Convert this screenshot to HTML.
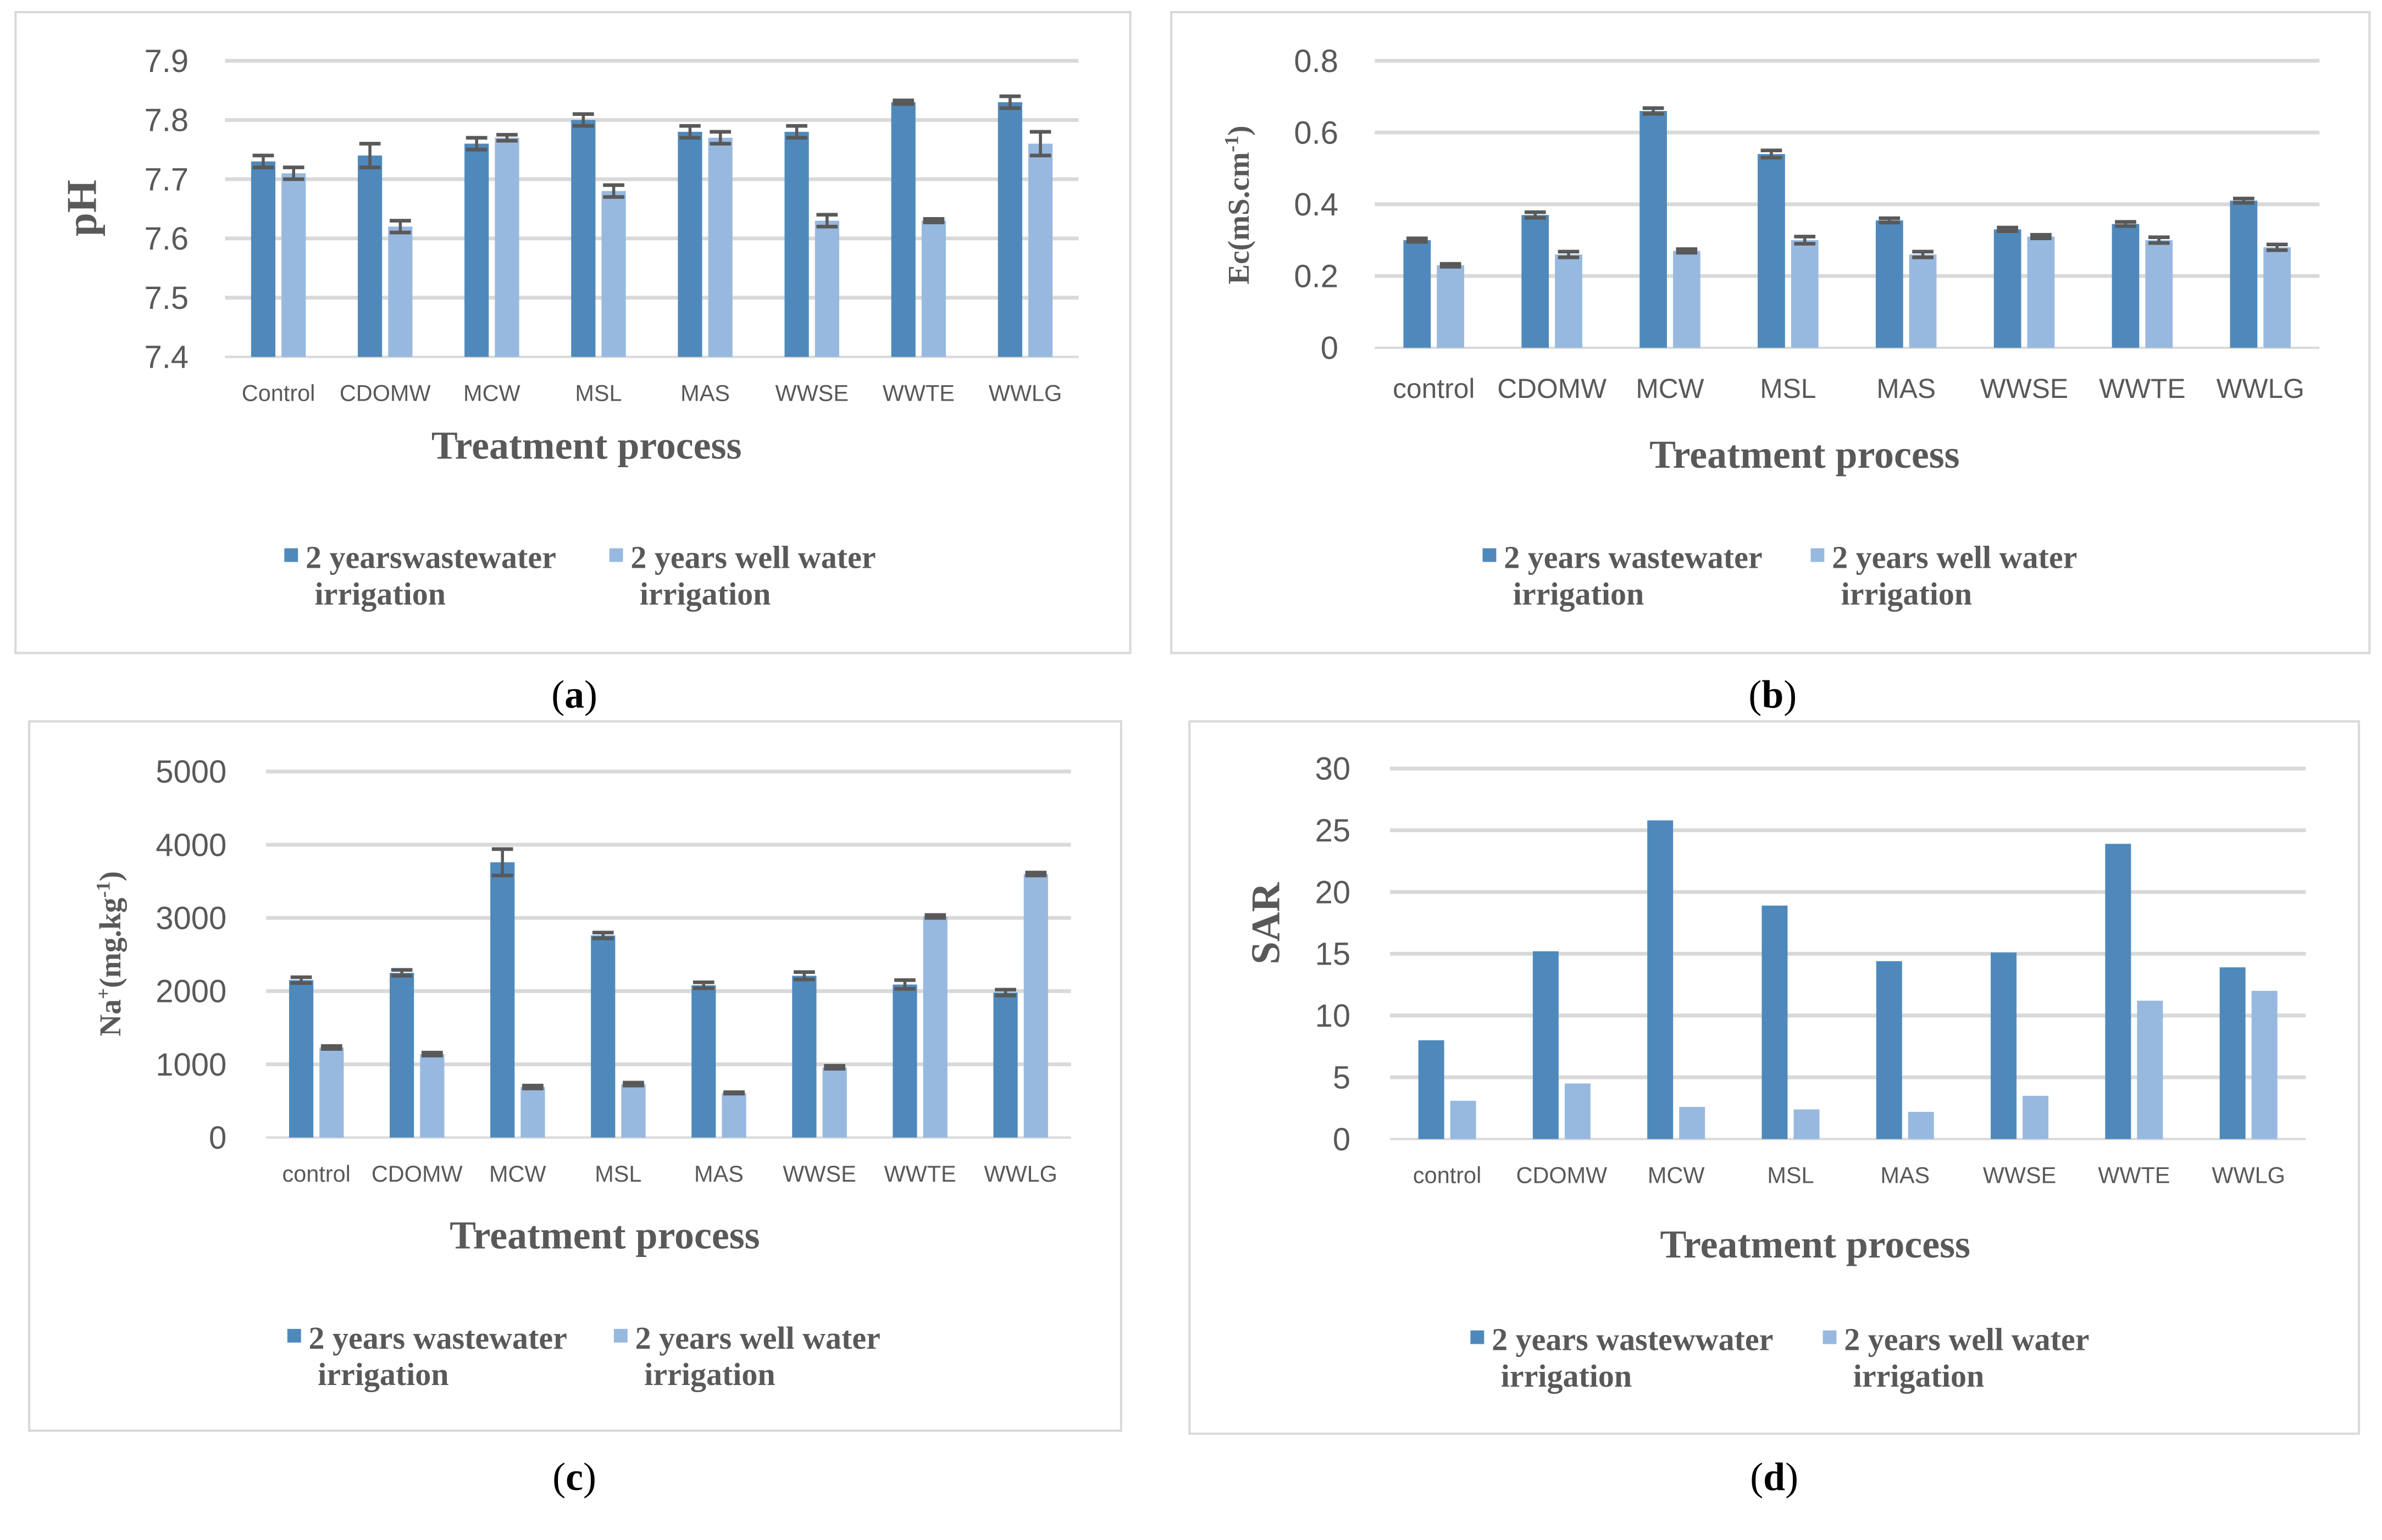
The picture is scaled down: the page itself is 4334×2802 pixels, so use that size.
<!DOCTYPE html>
<html><head><meta charset="utf-8"><style>
html,body{margin:0;padding:0;background:#fff;}
svg{display:block;}
.tk{font-family:"Liberation Sans",sans-serif;fill:#595959;}
.sr{font-family:"Liberation Serif",serif;fill:#595959;font-weight:bold;}
.cap{font-family:"Liberation Serif",serif;fill:#000;}
</style></head><body>
<svg id="chart" width="4334" height="2802" viewBox="0 0 1568 1014" xmlns="http://www.w3.org/2000/svg"></svg>
<script>
const catsA = ["Control","CDOMW","MCW","MSL","MAS","WWSE","WWTE","WWLG"];
const catsB = ["control","CDOMW","MCW","MSL","MAS","WWSE","WWTE","WWLG"];
const ticksA = [7.4,7.5,7.6,7.7,7.8,7.9];
const ticksB = [0,0.2,0.4,0.6,0.8];
const ticksC = [0,1000,2000,3000,4000,5000];
const ticksD = [0,5,10,15,20,25,30];
const wasteA = [7.73,7.74,7.76,7.80,7.78,7.78,7.83,7.83];
const wellA = [7.71,7.62,7.77,7.68,7.77,7.63,7.63,7.76];
const wasteErrA = [0.01,0.02,0.01,0.01,0.01,0.01,0.003,0.01];
const wellErrA = [0.01,0.01,0.005,0.01,0.01,0.01,0.003,0.02];
const wasteB = [0.30,0.37,0.66,0.54,0.355,0.33,0.345,0.41];
const wellB = [0.23,0.26,0.27,0.30,0.26,0.31,0.30,0.28];
const wasteErrB = [0.005,0.008,0.008,0.01,0.006,0.005,0.006,0.006];
const wellErrB = [0.004,0.008,0.005,0.01,0.008,0.005,0.008,0.008];
const wasteC = [2150,2250,3760,2760,2080,2210,2090,1980];
const wellC = [1230,1140,690,730,610,960,3020,3600];
const wasteErrC = [40,40,180,40,40,50,60,40];
const wellErrC = [20,20,20,20,10,20,20,20];
const wasteD = [8,15.2,25.8,18.9,14.4,15.1,23.9,13.9];
const wellD = [3.1,4.5,2.6,2.4,2.2,3.5,11.2,12];

const svg = document.getElementById('chart');
const NS = "http://www.w3.org/2000/svg";
function mk(tag, attrs, parent){const e=document.createElementNS(NS,tag);for(const k in attrs)e.setAttribute(k,attrs[k]);(parent||svg).appendChild(e);return e;}

function panel(p){
  const g = mk('g',{});
  
  
  const box = mk('rect',{x:p.box[0],y:p.box[1],width:p.box[2],height:p.box[3],fill:'#fff',stroke:'#d9d9d9','stroke-width':1.5},g);
  
  
  const lo=p.ticks[0], hi=p.ticks[p.ticks.length-1];
  const y = v => p.y0 - (v-lo)/(hi-lo)*(p.y0-p.y1);
  const bw = (p.x1-p.x0)/p.cats.length;
  const xc = i => p.x0 + bw*(i+0.5);
  p.ticks.forEach((t,i)=>{
    const l = mk('line',{x1:p.x0,x2:p.x1,y1:y(t),y2:y(t),stroke:'#d9d9d9','stroke-width':i==0?1.5:2.5},g);
    
    
    const tx = mk('text',{x:p.x0-p.tickGap,y:y(t)+p.tfs*0.35,'text-anchor':'end','font-size':p.tfs,class:'tk'},g);
    tx.textContent = p.fmt(t);
    
    
  });
  const barW = p.barW;
  p.cats.forEach((c,i)=>{
    const series=[[p.s1,p.e1,'#4f89bc',-1],[p.s2,p.e2,'#98b9df',1]];
    series.forEach(([s,e,col,side])=>{
      const bx = side<0 ? xc(i)-p.gap/2-barW : xc(i)+p.gap/2;
      const r = mk('rect',{x:bx,y:y(s[i]),width:barW,height:p.y0-y(s[i]),fill:col},g);
      
      
      if(e){
        const cx=bx+barW/2, top=y(s[i]+e[i]), bot=y(s[i]-e[i]);
        const eg = mk('g',{stroke:'#595959'},g);
        
        
        mk('line',{x1:cx,x2:cx,y1:top,y2:bot,'stroke-width':2},eg);
        mk('line',{x1:cx-7,x2:cx+7,y1:top,y2:top,'stroke-width':2.4},eg);
        mk('line',{x1:cx-7,x2:cx+7,y1:bot,y2:bot,'stroke-width':2.4},eg);
      }
    });
    const t = mk('text',{x:xc(i),y:p.y0+p.xlabGap,'text-anchor':'middle','font-size':p.xfs,class:'tk'},g);
    t.textContent=c;
    
    
  });
  const xt = mk('text',{x:p.xt[0],y:p.xt[1],'text-anchor':'middle','font-size':26,class:'sr'},g);
  xt.textContent='Treatment process';
  
  
  const yt = mk('text',{x:0,y:0,'text-anchor':'middle','font-size':p.ytfs,class:'sr',transform:`translate(${p.yt[0]},${p.yt[1]}) rotate(-90)`},g);
  yt.innerHTML = p.ytitle;
  
  
  [[p.leg[0],'#4f89bc',p.legT[0]],[p.leg[1],'#98b9df',p.legT[1]]].forEach(([lx,col,txt])=>{
    const lg = mk('g',{},g);
    
    
    mk('rect',{x:lx,y:p.legY-13,width:9,height:9,fill:col},lg);
    const a = mk('text',{x:lx+14,y:p.legY,'font-size':21,class:'sr'},lg);
    a.textContent=txt;
    const b = mk('text',{x:lx+20,y:p.legY+24,'font-size':21,class:'sr'},lg);
    b.textContent='irrigation';
  });
  const cap = mk('text',{x:p.cap[0],y:p.cap[1],'text-anchor':'middle','font-size':26,class:'cap'},svg);
  cap.innerHTML = `(<tspan font-weight="bold">${p.letter}</tspan>)`;
  
  
}

panel({name:'ph-chart',box:[10,8,734,422],cats:catsA,ticks:ticksA,s1:wasteA,s2:wellA,e1:wasteErrA,e2:wellErrA,
  x0:148,x1:710,y0:235,y1:40,barW:16,gap:4,tfs:21,tickGap:24,xfs:15,xlabGap:29,fmt:t=>t.toFixed(1),
  xt:[386,302],yt:[63,137],ytfs:28,ytitle:'pH',leg:[187,401],legY:374,legT:['2 yearswastewater','2 years well water'],cap:[378,466],letter:'a'});
panel({name:'ec-chart',box:[771,8,789,422],cats:catsB,ticks:ticksB,s1:wasteB,s2:wellB,e1:wasteErrB,e2:wellErrB,
  x0:905,x1:1527,y0:229,y1:40,barW:18,gap:4,tfs:21,tickGap:24,xfs:18,xlabGap:33,fmt:t=>t==0?'0':t.toFixed(1),
  xt:[1188,308],yt:[822,135],ytfs:20,ytitle:'Ec(mS.cm<tspan dy="-7" font-size="13">-1</tspan><tspan dy="7">)</tspan>',leg:[976,1192],legY:374,legT:['2 years wastewater','2 years well water'],cap:[1167,466],letter:'b'});
panel({name:'na-chart',box:[19,475,719,467],cats:catsB,ticks:ticksC,s1:wasteC,s2:wellC,e1:wasteErrC,e2:wellErrC,
  x0:175,x1:705,y0:749,y1:508,barW:16,gap:4,tfs:21,tickGap:26,xfs:15,xlabGap:29,fmt:t=>String(t),
  xt:[398,822],yt:[79,628],ytfs:20,ytitle:'Na<tspan dy="-7" font-size="13">+</tspan><tspan dy="7">(mg.kg</tspan><tspan dy="-7" font-size="13">-1</tspan><tspan dy="7">)</tspan>',leg:[189,404],legY:888,legT:['2 years wastewater','2 years well water'],cap:[378,981],letter:'c'});
panel({name:'sar-chart',box:[783,475,770,469],cats:catsB,ticks:ticksD,s1:wasteD,s2:wellD,e1:null,e2:null,
  x0:915,x1:1518,y0:750,y1:506,barW:17,gap:4,tfs:21,tickGap:26,xfs:15,xlabGap:29,fmt:t=>String(t),
  xt:[1195,828],yt:[842,608],ytfs:27,ytitle:'SAR',leg:[968,1200],legY:889,legT:['2 years wastewwater','2 years well water'],cap:[1168,981],letter:'d'});
</script>
</body></html>
